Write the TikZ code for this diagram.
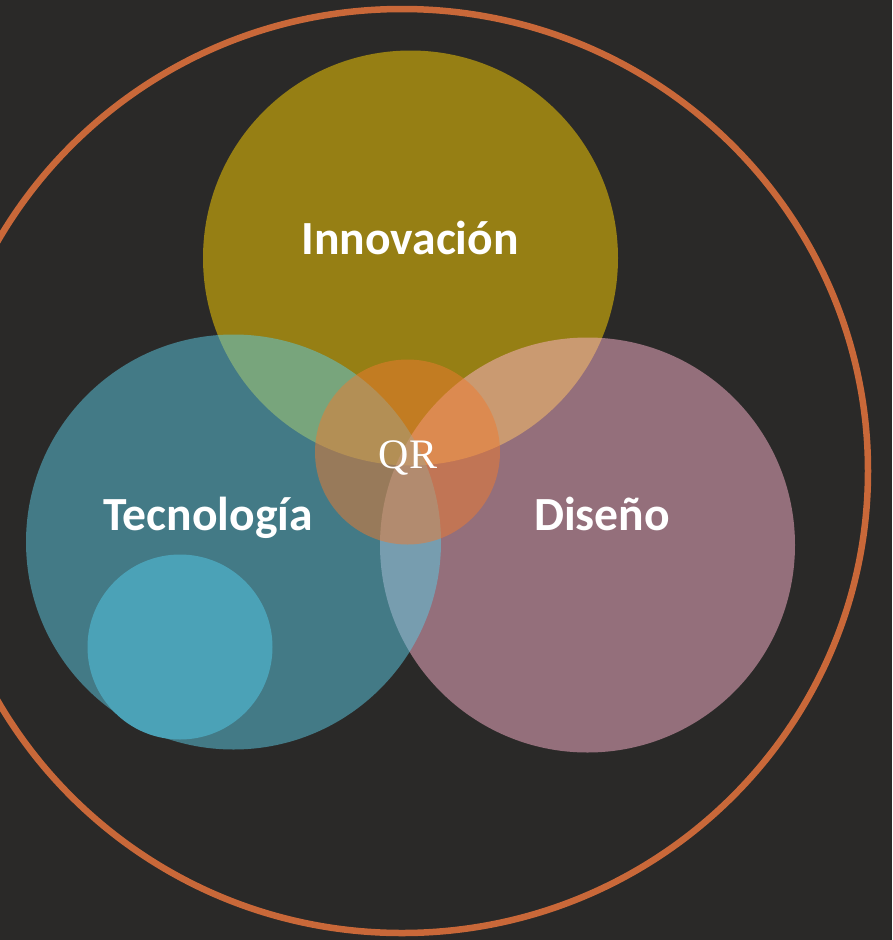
\documentclass[tikz,border=0pt]{standalone}
\usepackage{fontspec}
\newfontfamily\labelfont{Carlito}
\newfontfamily\qrfont{Liberation Serif}
\definecolor{bgc}{RGB}{42,41,40}
\definecolor{ringc}{RGB}{201,104,57}
\definecolor{innovc}{RGB}{150,127,20}
\definecolor{disc}{RGB}{255,181,206}
\definecolor{tecc}{RGB}{92,203,228}
\definecolor{smallc}{RGB}{75,162,183}
\definecolor{qrc}{RGB}{238,123,48}
\tikzset{
  biglabel/.style={text=white, anchor=base, inner sep=0pt, font=\labelfont\bfseries\fontsize{47.6}{56}\selectfont},
  qrlabel/.style={text=white, anchor=base, inner sep=0pt, font=\qrfont\fontsize{42}{48}\selectfont},
  halfshade/.style={fill opacity=0.5}
}
\begin{document}
\begin{tikzpicture}[x=1pt,y=-1pt]
\useasboundingbox (0,0) rectangle (892,940);
\fill[bgc] (0,0) rectangle (892,940);
% outer ring
\draw[ringc, line width=6.5pt] (402,471) ellipse [x radius=466pt, y radius=462pt];
% Innovacion circle
\fill[innovc] (410.5,258) circle [radius=207.5pt];
% Diseno circle
\fill[disc, halfshade] (587.5,545) circle [radius=207.5pt];
% Tecnologia circle
\fill[tecc, halfshade] (233.5,542) circle [radius=207.5pt];
% small circle
\fill[smallc] (180,647) circle [radius=92.5pt];
% QR circle
\fill[qrc, halfshade] (407.5,452) circle [radius=92.5pt];
% labels
\node[biglabel] (innov) at (410,254) {Innovación};
\node[biglabel] (tec) at (208,530) {Tecnología};
\node[biglabel] (dis) at (602,530) {Diseño};
\node[qrlabel] (qr) at (408,468) {QR};
\end{tikzpicture}
\end{document}
